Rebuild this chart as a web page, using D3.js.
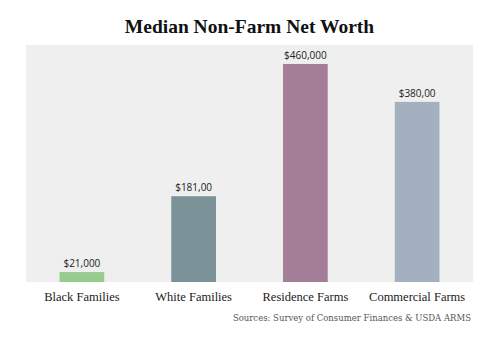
<!DOCTYPE html>
<html>
<head>
<meta charset="utf-8">
<script src="https://cdn.jsdelivr.net/npm/d3@7"></script>
<style>
  body { margin: 0; background: #fff; }
</style>
</head>
<body>
<svg id="chart"></svg>
<script>
const categories = ['Black Families', 'White Families', 'Residence Farms', 'Commercial Farms']
const values = [21000, 181000, 460000, 380000]
const valueLabels = ['$21,000', '$181,00', '$460,000', '$380,00']
const colors = ['#98cb8f', '#7a9298', '#a47d96', '#a3b0c0']

const width = 499
const height = 338
const plot = { left: 26, right: 473, top: 45, bottom: 282 }

const svg = d3.select('#chart')
  .attr('width', width)
  .attr('height', height)

let x = d3.scaleBand()
  .domain(categories)
  .range([plot.left, plot.right])
  .paddingInner(0.6)
  .paddingOuter(0.3)

let y = d3.scaleLinear()
  .domain([0, 500000])
  .range([plot.bottom, plot.top])

// grey plot background
svg.append('rect')
  .attr('x', plot.left)
  .attr('y', plot.top)
  .attr('width', plot.right - plot.left)
  .attr('height', plot.bottom - plot.top)
  .attr('fill', '#efefef')

svg.append('text')
  .attr('x', width / 2)
  .attr('y', 33)
  .attr('text-anchor', 'middle')
  .attr('font-family', 'Liberation Serif')
  .attr('font-weight', 'bold')
  .attr('font-size', 19.5)
  .attr('fill', '#111')
  .text('Median Non-Farm Net Worth')

svg.append('g')
  .selectAll('rect')
  .data(values)
  .enter().append('rect')
  .attr('x', (d, i) => x(categories[i]))
  .attr('y', d => y(d))
  .attr('width', x.bandwidth())
  .attr('height', d => y(0) - y(d))
  .attr('fill', (d, i) => colors[i])

svg.append('g')
  .selectAll('text')
  .data(values)
  .enter().append('text')
  .attr('x', (d, i) => x(categories[i]) + x.bandwidth() / 2)
  .attr('y', d => y(d) - 5)
  .attr('text-anchor', 'middle')
  .attr('font-family', 'Open Sans')
  .attr('font-size', 10)
  .attr('fill', '#222')
  .text((d, i) => valueLabels[i])

let xAxis = svg.append('g')
  .attr('transform', `translate(0,${plot.bottom})`)
  .call(d3.axisBottom(x).tickSize(0).tickPadding(10))

xAxis.select('.domain').remove()
xAxis.selectAll('text')
  .attr('font-family', 'Liberation Serif')
  .attr('font-size', 12.5)
  .attr('fill', '#222')

svg.append('text')
  .attr('x', 471)
  .attr('y', 321)
  .attr('text-anchor', 'end')
  .attr('font-family', 'DejaVu Serif')
  .attr('font-size', 8.5)
  .attr('fill', '#555')
  .text('Sources: Survey of Consumer Finances & USDA ARMS')
</script>
</body>
</html>
